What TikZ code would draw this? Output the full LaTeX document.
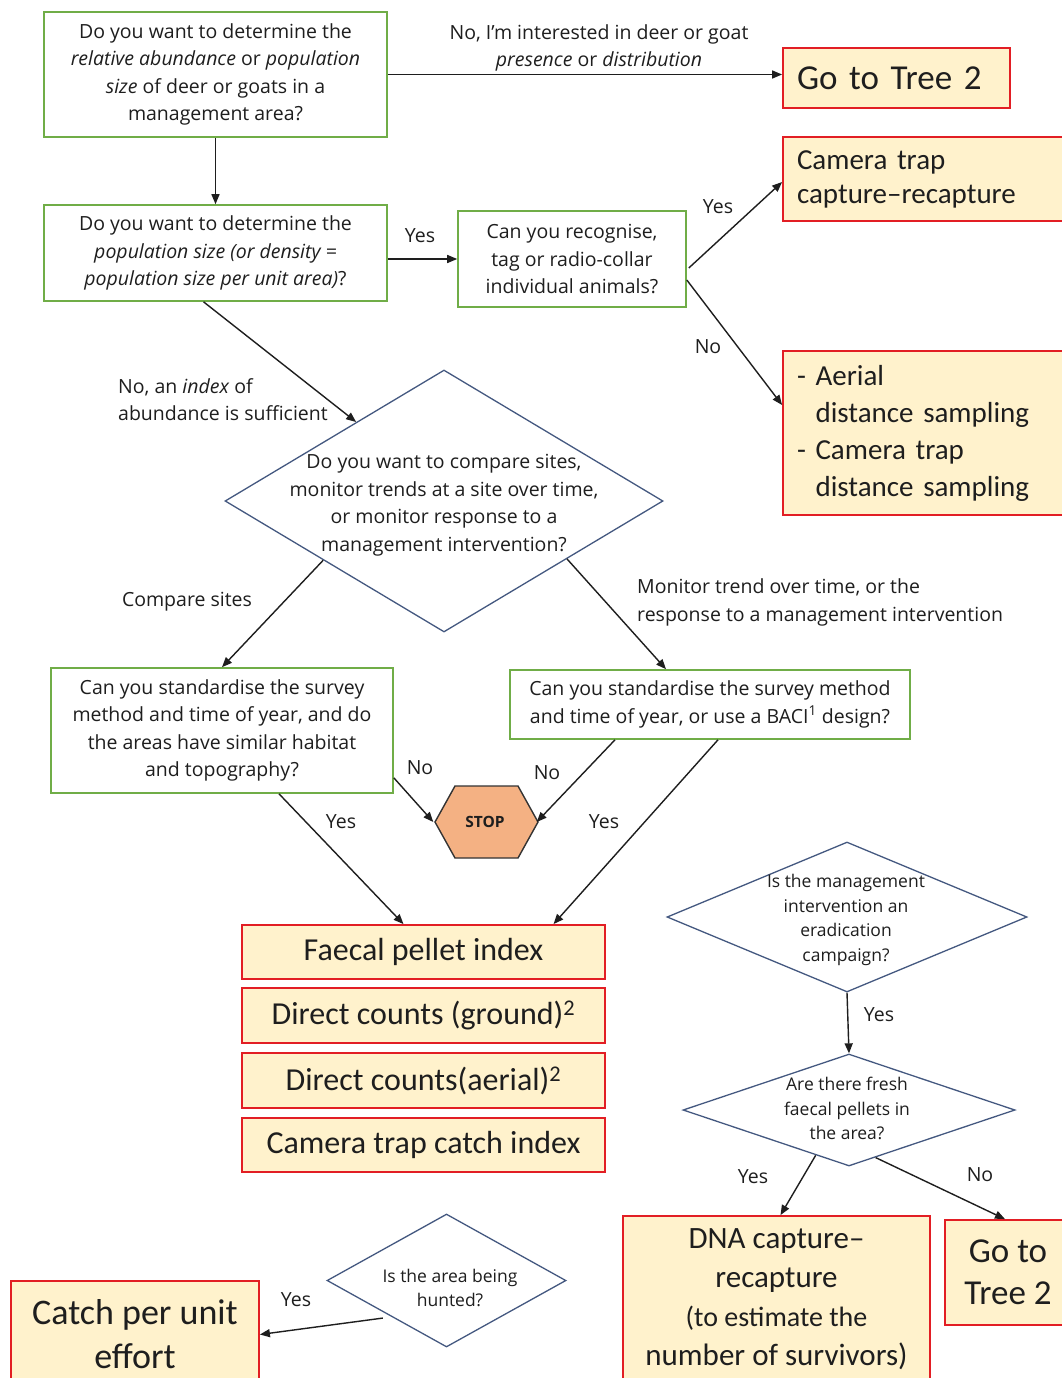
\documentclass[tikz,border=0pt]{standalone}
\usepackage{fontspec}
\setmainfont{Open Sans}
\newfontfamily\rf{Carlito}
\usetikzlibrary{arrows.meta,calc,shapes.geometric}
\definecolor{gbord}{RGB}{112,173,71}
\definecolor{rbord}{RGB}{226,30,36}
\definecolor{rfill}{RGB}{255,242,204}
\definecolor{dbord}{RGB}{68,88,128}
\definecolor{stopfill}{RGB}{244,177,131}
\definecolor{txt}{RGB}{30,30,30}
\newcommand\qfs{\fontsize{19.5}{27.5}\selectfont}
\newcommand\dfs{\fontsize{17.5}{24.5}\selectfont}
\tikzset{
  qbox/.style={draw=gbord, line width=1.6pt, inner sep=0pt, align=center, font=\qfs, text=txt},
  rbox/.style={draw=rbord, fill=rfill, line width=1.8pt, inner sep=0pt, text=txt},
  dia/.style={diamond, draw=dbord, line width=1.3pt, inner sep=0pt},
  dtext/.style={font=\dfs, align=center, inner sep=0pt, text=txt},
  lbl/.style={font=\qfs, align=center, inner sep=0pt, text=txt},
  arr/.style={draw=txt, line width=1.4pt, -{Triangle[length=10pt,width=8pt]}}
}
\begin{document}
\begin{tikzpicture}[x=1pt,y=-1pt]
\fill[white] (0,0) rectangle (1062,1378);
\clip (0,0) rectangle (1062,1378);

% question boxes
\node[qbox, minimum width=343pt, minimum height=125pt] (q1) at (215.5,74.5)
  {Do you want to determine the\\\textit{relative abundance} or \textit{population}\\\textit{size} of deer or goats in a\\management area?};
\node[qbox, minimum width=343pt, minimum height=96pt] (q2) at (215.5,253)
  {Do you want to determine the\\\textit{population size (or density =}\\\textit{population size per unit area)}?};
\node[qbox, minimum width=228pt, minimum height=96pt] (q3) at (572,259)
  {Can you recognise,\\tag or radio-collar\\individual animals?};
\node[qbox, minimum width=342pt, minimum height=125pt] (q4) at (222,730.5)
  {Can you standardise the survey\\method and time of year, and do\\the areas have similar habitat\\and topography?};
\node[qbox, minimum width=400pt, minimum height=69pt] (q5) at (710,704.5)
  {Can you standardise the survey method\\and time of year, or use a BACI\textsuperscript{1} design?};

% result boxes
\node[rbox, minimum width=227pt, minimum height=60pt, text width=199pt, align=left,
  font=\rf\fontsize{35}{40}\selectfont] (gt1) at (896.5,78) {Go to Tree 2};
\node[rbox, minimum width=307pt, minimum height=84pt, text width=279pt, align=left,
  font=\rf\fontsize{29}{34}\selectfont] (ct) at (936.5,179) {Camera trap\\capture–recapture};
\node[rbox, minimum width=307pt, minimum height=164pt, text width=279pt, align=left,
  font=\rf\fontsize{29}{37}\selectfont] (ae) at (936.5,433)
  {- Aerial\\\hphantom{- }distance sampling\\- Camera trap\\\hphantom{- }distance sampling};

\node[rbox, minimum width=363pt, minimum height=54pt, font=\rf\fontsize{32}{36}\selectfont] (f) at (423.5,952) {Faecal pellet index};
\node[rbox, minimum width=363pt, minimum height=55pt, font=\rf\fontsize{32}{36}\selectfont] (dg) at (423.5,1015.5) {Direct counts (ground)\textsuperscript{2}};
\node[rbox, minimum width=363pt, minimum height=55pt, font=\rf\fontsize{32}{36}\selectfont] (da) at (423.5,1080.5) {Direct counts(aerial)\textsuperscript{2}};
\node[rbox, minimum width=363pt, minimum height=54pt, font=\rf\fontsize{32}{36}\selectfont] (cti) at (423.5,1145) {Camera trap catch index};

\node[rbox, minimum width=307pt, minimum height=166pt, align=center,
  font=\rf\fontsize{31}{39}\selectfont] (dna) at (776.5,1299)
  {DNA capture–\\recapture\\\fontsize{28}{33}\selectfont (to estimate the\\number of survivors)};
\node[rbox, minimum width=126pt, minimum height=105pt, align=center,
  font=\rf\fontsize{35}{42}\selectfont] (gt2) at (1008,1272.5) {Go to\\Tree 2};
\node[rbox, minimum width=248pt, minimum height=107pt, align=center,
  font=\rf\fontsize{36}{44}\selectfont] (cpue) at (135,1334.5) {Catch per unit\\effort};

% diamonds
\node[dia, minimum width=438pt, minimum height=262pt] (d1) at (444,501) {};
\node[lbl] (d1t) at (444,505) {Do you want to compare sites,\\monitor trends at a site over time,\\or monitor response to a\\management intervention?};
\node[dia, minimum width=360pt, minimum height=150pt] (d2) at (847,917) {};
\node[dtext] (d2t) at (846,920) {Is the management\\intervention an\\eradication\\campaign?};
\node[dia, minimum width=332pt, minimum height=112pt] (d3) at (849,1110) {};
\node[dtext] (d3t) at (847,1108.5) {Are there fresh\\faecal pellets in\\the area?};
\node[dia, minimum width=239pt, minimum height=133pt] (d4) at (446.5,1280.5) {};
\node[dtext] (d4t) at (450,1288) {Is the area being\\hunted?};

% STOP
\draw[fill=stopfill, draw=black!80, line width=1.4pt]
  (435,822) -- (455,786) -- (518,786) -- (538,822) -- (518,858) -- (455,858) -- cycle;
\node[minimum width=103pt, minimum height=72pt, inner sep=0pt, text=txt,
  font=\bfseries\fontsize{15.5}{15.5}\selectfont] (stop) at (485,822) {STOP};

% connectors
\draw[arr] (q1.east) -- (q1.east -| gt1.west);
\draw[arr] (q1.south) -- (q2.north);
\draw[arr] (q3.west -| q2.east) -- (q3.west);
\draw[arr] ($(q3.east)+(2,9)$) -- ($(ct.west)+(0,3)$);
\draw[arr] ($(q3.east)+(0,21)$) -- ($(ae.west)+(0,-28)$);
\draw[arr] ($(q2.south)+(-12,0)$) -- ($(d1.west)!0.6!(d1.north)$);
\draw[arr] ($(d1.west)!0.45!(d1.south)$) -- (q4.north);
\draw[arr] ($(d1.east)!0.44!(d1.south)$) -- ($(q5.north)+(-44,0)$);
\draw[arr] ($(q4.south east)+(0,-16)$) -- (stop.west);
\draw[arr] ($(q5.south)+(-95,0)$) -- (stop.east);
\draw[arr] ($(q4.south)+(57,0)$) -- ($(f.north)+(-20,0)$);
\draw[arr] ($(q5.south)+(8,0)$) -- ($(f.north)+(130,0)$);
\draw[arr] (d2.south) -- (d3.north);
\draw[arr] ($(d3.west)!0.8!(d3.south)$) -- ($(dna.north)+(4,0)$);
\draw[arr] ($(d3.east)!0.84!(d3.south)$) -- ($(gt2.north)+(-3,0)$);
\draw[arr] ($(d4.west)!0.47!(d4.south)+(0,6)$) -- (cpue.east);

% labels
\node[lbl] (l1) at (599,48) {No, I’m interested in deer or goat\\\textit{presence} or \textit{distribution}};
\node[lbl] (l2) at (420,236) {Yes};
\node[lbl] (l3) at (718,207) {Yes};
\node[lbl] (l4) at (708,347) {No};
\node[lbl, anchor=west, align=left] (l5) at (118,399.5) {No, an \textit{index} of\\abundance is sufficient};
\node[lbl] (l6) at (187,602) {Compare sites};
\node[lbl, anchor=west, align=left] (l7) at (637,602.5) {Monitor trend over time, or the\\response to a management intervention};
\node[lbl] (l8) at (420,768) {No};
\node[lbl] (l9) at (547,773) {No};
\node[lbl] (l10) at (341,822) {Yes};
\node[lbl] (l11) at (604,822) {Yes};
\node[lbl] (l12) at (879,1015) {Yes};
\node[lbl] (l13) at (753,1177) {Yes};
\node[lbl] (l14) at (980,1175) {No};
\node[lbl] (l15) at (296,1300) {Yes};
\end{tikzpicture}
\end{document}
